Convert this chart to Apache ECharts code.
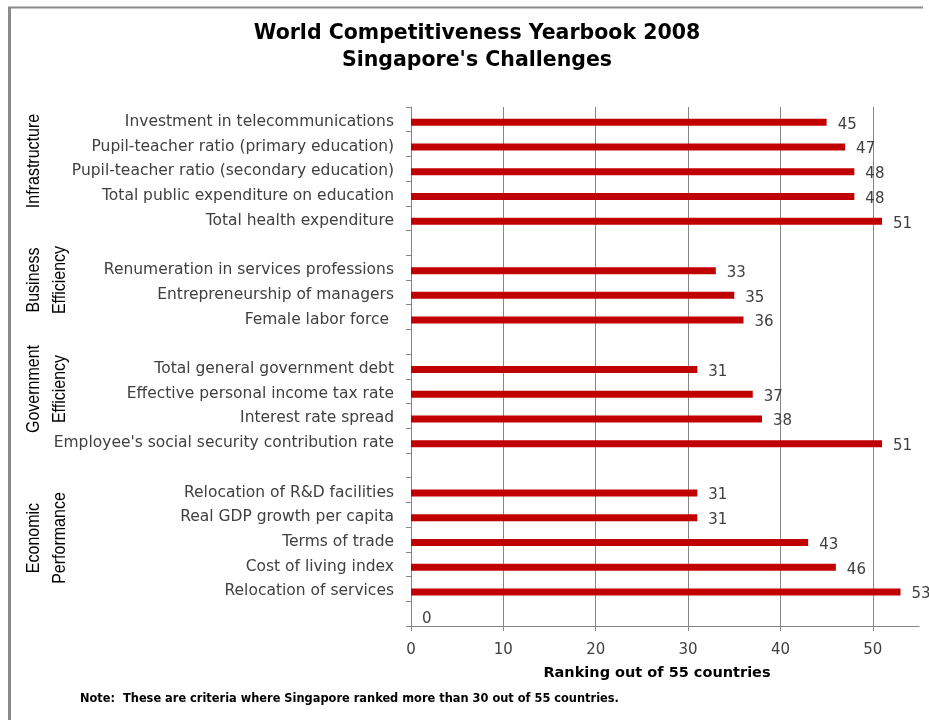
<!DOCTYPE html>
<html>
<head>
<meta charset="utf-8">
<script src="https://cdn.jsdelivr.net/npm/echarts@6/dist/echarts.min.js"></script>
<style>
html,body{margin:0;padding:0;background:#fff;}
#chart{width:929px;height:720px;}
</style>
</head>
<body>
<div id="chart"></div>
<script>
// Categories top to bottom (blank rows separate the groups)
var categories = [
  'Investment in telecommunications',
  'Pupil-teacher ratio (primary education)',
  'Pupil-teacher ratio (secondary education)',
  'Total public expenditure on education',
  'Total health expenditure',
  ' ',
  'Renumeration in services professions',
  'Entrepreneurship of managers',
  'Female labor force ',
  '  ',
  'Total general government debt',
  'Effective personal income tax rate',
  'Interest rate spread',
  "Employee's social security contribution rate",
  '   ',
  'Relocation of R&D facilities',
  'Real GDP growth per capita',
  'Terms of trade',
  'Cost of living index',
  'Relocation of services',
  '    '
];
// Rankings (out of 55); '-' = blank separator row
var rankings = [45, 47, 48, 48, 51, '-', 33, 35, 36, '-', 31, 37, 38, 51, '-', 31, 31, 43, 46, 53, 0];
var spacer = categories.map(function () { return '-'; });
var xTicks = [0, 10, 20, 30, 40, 50];
var groupLabels = [
  {lines: ['Infrastructure'], y: 161},
  {lines: ['Business', 'Efficiency'], y: 280},
  {lines: ['Government', 'Efficiency'], y: 389},
  {lines: ['Economic', 'Performance'], y: 538}
];
var titleText = "World Competitiveness Yearbook 2008\nSingapore's Challenges";
var axisName = 'Ranking out of 55 countries';
var noteText = 'Note:  These are criteria where Singapore ranked more than 30 out of 55 countries.';

var graphics = [
  {type: 'line', shape: {x1: 8, y1: 7.5, x2: 923, y2: 7.5}, style: {stroke: '#8a8a8a', lineWidth: 2}},
  {type: 'line', shape: {x1: 9.5, y1: 7, x2: 9.5, y2: 720}, style: {stroke: '#8a8a8a', lineWidth: 3}},
  {type: 'text', left: 80, top: 694, style: {text: noteText, font: 'bold 11.4px "DejaVu Sans"', fill: '#000'}}
];
var lineX = [34, 60];
groupLabels.forEach(function (g) {
  g.lines.forEach(function (t, i) {
    graphics.push({
      type: 'text', x: lineX[i], y: g.y, rotation: Math.PI / 2, scaleY: 1.2,
      style: {text: t, font: '16px "Liberation Sans"', fill: '#000', align: 'center', verticalAlign: 'middle'}
    });
  });
});

var chart = echarts.init(document.getElementById('chart'), null, {renderer: 'canvas'});
chart.setOption({
  animation: false,
  title: {
    text: titleText, left: 472, top: 15, textAlign: 'center',
    textStyle: {fontFamily: 'DejaVu Sans', fontWeight: 'bold', fontSize: 20.5, lineHeight: 27, color: '#000'}
  },
  grid: {left: 411, right: 10, top: 107, bottom: 94, containLabel: false},
  xAxis: {
    type: 'value', min: 0, max: 55, interval: 10,
    name: axisName, nameLocation: 'middle', nameGap: 40,
    nameTextStyle: {fontFamily: 'DejaVu Sans', fontWeight: 'bold', fontSize: 14.5, color: '#000', padding: [0, 16, 0, 0]},
    axisLine: {show: true, lineStyle: {color: '#868686'}},
    axisTick: {show: true, length: 5, lineStyle: {color: '#868686'}, customValues: xTicks},
    axisLabel: {fontFamily: 'DejaVu Sans', fontSize: 15, color: '#404040', margin: 17, customValues: xTicks},
    splitLine: {show: true, lineStyle: {color: ['transparent', '#868686', '#868686', '#868686', '#868686', '#868686', 'transparent'], width: 1}}
  },
  yAxis: {
    type: 'category', data: categories, inverse: true,
    axisLine: {show: true, lineStyle: {color: '#868686'}},
    axisTick: {show: true, length: 5, lineStyle: {color: '#868686'}},
    axisLabel: {
      interval: 0, margin: 17,
      formatter: function (v) { return '{a|' + v + '}'; },
      rich: {a: {fontFamily: 'DejaVu Sans', fontSize: 15.5, color: '#404040', padding: [5, 0, 0, 0]}}
    }
  },
  series: [{
    type: 'bar', data: spacer, barWidth: 6, barGap: '0%', silent: true,
    itemStyle: {color: 'transparent'}
  }, {
    type: 'bar', data: rankings, barWidth: 7, barGap: '0%',
    itemStyle: {color: '#C00000'},
    label: {
      show: true, position: 'right', distance: 11,
      formatter: '{a|{c}}',
      rich: {a: {fontFamily: 'DejaVu Sans', fontSize: 15, color: '#404040', padding: [5, 0, 0, 0]}}
    }
  }],
  graphic: graphics
});
</script>
</body>
</html>
